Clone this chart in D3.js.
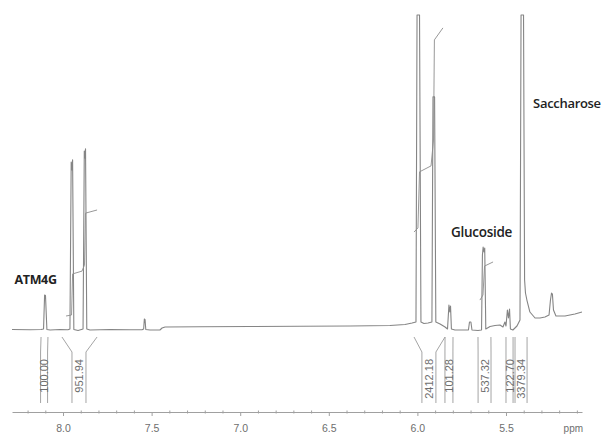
<!DOCTYPE html>
<html>
<head>
<meta charset="utf-8">
<script src="https://cdn.jsdelivr.net/npm/d3@7/dist/d3.min.js"></script>
<style>
  html, body { margin: 0; padding: 0; background: #fff; }
  svg { display: block; }
</style>
</head>
<body>
<svg id="chart" width="605" height="434"></svg>
<script>
// ---------- data (ppm, relative intensity) ----------
const spectrumPpm = [8.288,8.186,8.124,8.110,8.104,8.099,8.091,8.073,8.017,7.972,
  7.961,7.954,7.950,7.946,7.939,7.915,7.887,7.880,7.877,7.873,7.866,7.848,7.735,7.622,7.554,
  7.545,7.541,7.537,7.533,7.509,7.453,7.441,7.424,7.227,6.945,6.663,6.380,6.155,6.070,6.030,
  6.008,6.002,5.988,5.980,5.963,5.940,5.918,5.912,5.903,5.896,5.872,5.844,5.830,
  5.825,5.822,5.817,5.813,5.808,5.788,5.731,5.712,5.706,5.698,5.692,5.658,5.638,
  5.633,5.629,5.624,5.620,5.614,5.590,5.562,5.534,5.517,5.506,5.500,5.492,5.486,5.480,5.475,
  5.461,5.438,5.421,5.415,5.401,5.395,5.390,5.382,5.365,5.336,5.308,5.280,5.257,
  5.249,5.243,5.238,5.232,5.218,5.167,5.111,5.071];
const spectrumInt = [0.16,0.06,0.16,0.32,11.1,10.95,0.16,0.0,0.16,0.06,
  0.32,53.3,50.8,54.0,0.16,-0.16,0.32,56.8,54.6,57.5,0.32,0.0,0.16,0.06,0.06,
  0.32,3.5,3.3,0.16,0.0,0.0,0.63,0.95,1.02,1.11,1.17,1.27,1.43,1.75,2.22,
  2.54,100,100,2.54,2.06,2.22,2.54,74.0,74.0,2.54,1.9,0.95,0.32,
  5.08,7.94,5.71,7.62,0.32,0.0,0.0,0.0,2.54,2.54,0.0,-0.16,0.0,
  23.8,26.3,24.8,26.0,0.32,1.11,1.43,1.59,0.95,2.54,1.27,6.35,3.81,6.67,0.32,
  0.0,1.27,3.17,100,100,15.9,11.75,9.52,5.71,3.81,3.81,4.13,4.76,
  9.52,11.75,11.4,6.35,4.44,4.44,5.08,5.71];

// integral curves (ppm, level)
const integralCurves = [
  { ppm: [7.983,7.952,7.946,7.893,7.879,7.873,7.808], val: [4.44,4.76,17.8,18.7,20.6,37.1,38.1] },
  { ppm: [6.019,5.997,5.988,5.923,5.909,5.904,5.856], val: [31.1,32.4,50.2,52.1,60.3,92.1,95.9] },
  { ppm: [5.647,5.630,5.621,5.573], val: [9.5,11.1,20.3,21.6] }
];

// integration regions: limits (ppm), label centre (ppm), label text
const integralFrom  = [8.124, 8.006, 6.019, 5.844, 5.658, 5.500, 5.449];
const integralTo    = [8.085, 7.808, 5.844, 5.799, 5.585, 5.460, 5.381];
const integralMid   = [8.107, 7.910, 5.935, 5.822, 5.621, 5.480, 5.415];
const integralLabel = ["100.00", "951.94", "2412.18", "101.28", "537.32", "122.70", "3379.34"];

// peak annotations
const annotText = ["ATM4G", "Glucoside", "Saccharose"];
const annotPpm  = [8.155, 5.638, 5.156];
const annotVal  = [14.6, 29.5, 70.5];

// axis ticks
const majorTicks = [8.0, 7.5, 7.0, 6.5, 6.0, 5.5];
const majorLabels = ["8.0", "7.5", "7.0", "6.5", "6.0", "5.5"];
const minorTicks = [8.2,8.1,7.9,7.8,7.7,7.6,7.4,7.3,7.2,7.1,6.9,6.8,6.7,6.6,6.4,6.3,6.2,6.1,5.9,5.8,5.7,5.6,5.4,5.3,5.2,5.1];

// ---------- drawing ----------
const svg = d3.select("#chart");
const x = d3.scaleLinear().domain([8.288, 5.071]).range([12, 582]);
const y = d3.scaleLinear().domain([0, 100]).range([330, 15]);

const lineColor = "#858585";

// spectrum
const specData = spectrumPpm.map((p, i) => [p, spectrumInt[i]]);
const line = d3.line().x(d => x(d[0])).y(d => y(d[1]));
svg.append("path")
  .datum(specData)
  .attr("d", line)
  .attr("fill", "none")
  .attr("stroke", lineColor)
  .attr("stroke-width", 1.1)
  .attr("stroke-linejoin", "round");

// integral curves
integralCurves.forEach(c => {
  svg.append("path")
    .datum(c.ppm.map((p, i) => [p, c.val[i]]))
    .attr("d", line)
    .attr("fill", "none")
    .attr("stroke", "#8c8c8c")
    .attr("stroke-width", 0.9);
});

// integral brackets and labels
const bracketTop = 337, bracketBend = 352, bracketBottom = 403;
const gInt = svg.append("g");
integralLabel.forEach((lab, i) => {
  const xl = x(integralFrom[i]), xr = x(integralTo[i]), xm = x(integralMid[i]);
  const hw = Math.max(3.5, Math.min(7, (xr - xl) / 2));
  const pts = [[xl, bracketTop], [xm - hw, bracketBend], [xm - hw, bracketBottom]];
  const pts2 = [[xr, bracketTop], [xm + hw, bracketBend], [xm + hw, bracketBottom]];
  [pts, pts2].forEach(p => {
    gInt.append("path")
      .attr("d", d3.line()(p))
      .attr("fill", "none")
      .attr("stroke", "#9a9a9a")
      .attr("stroke-width", 0.9);
  });
  gInt.append("text")
    .attr("transform", `translate(${xm},359) rotate(-90)`)
    .attr("text-anchor", "end")
    .attr("dy", "0.36em")
    .attr("font-family", "Liberation Sans, Arial, sans-serif")
    .attr("font-size", 11)
    .attr("fill", "#6e6e6e")
    .text(lab);
});

// annotations
const fontW = [700, 600, 600];
const fontS = [12.5, 13.5, 13];
annotText.forEach((t, i) => {
  svg.append("text")
    .attr("x", x(annotPpm[i]))
    .attr("y", y(annotVal[i]))
    .attr("text-anchor", "middle")
    .attr("font-family", "Open Sans, sans-serif")
    .attr("font-weight", fontW[i])
    .attr("font-size", fontS[i])
    .attr("letter-spacing", -0.3)
    .attr("fill", "#222")
    .text(t);
});

// axis
const axisY = 412;
const gMinor = svg.append("g").attr("transform", `translate(0,${axisY - 1.5})`)
  .call(d3.axisBottom(x).tickValues(minorTicks).tickSize(3).tickSizeOuter(0).tickFormat(""));
const gMajor = svg.append("g").attr("transform", `translate(0,${axisY})`)
  .call(d3.axisBottom(x).tickValues(majorTicks).tickSize(4).tickSizeOuter(0).tickPadding(9)
    .tickFormat((d, i) => majorLabels[i]));
gMinor.select(".domain").remove();
[gMinor, gMajor].forEach(g => {
  g.selectAll("line").attr("stroke", "#a0a0a0");
  g.selectAll(".domain").attr("stroke", "#a0a0a0");
});
gMajor.selectAll("text")
  .attr("font-family", "Liberation Sans, Arial, sans-serif")
  .attr("font-size", 10.5)
  .attr("fill", "#6e6e6e");

svg.append("text")
  .attr("x", x(5.12))
  .attr("y", 432)
  .attr("text-anchor", "middle")
  .attr("font-family", "Liberation Sans, Arial, sans-serif")
  .attr("font-size", 10)
  .attr("fill", "#6e6e6e")
  .text("ppm");
</script>
</body>
</html>
